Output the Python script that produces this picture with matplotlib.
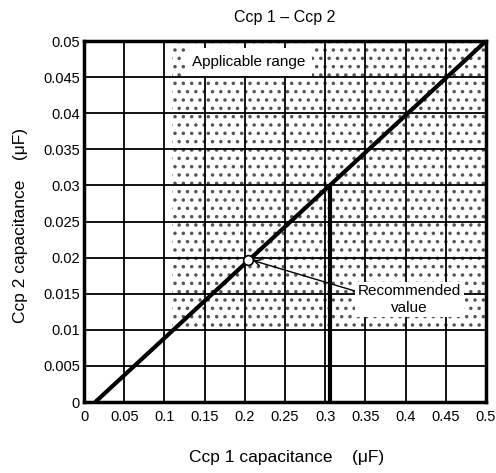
import matplotlib
matplotlib.use('Agg')
import matplotlib.pyplot as plt
import numpy as np

plt.rcParams['font.family'] = ['Liberation Sans', 'DejaVu Sans']
plt.rcParams['hatch.color'] = '#555555'
plt.rcParams['hatch.linewidth'] = 1.3

# data
xticks = [0, 0.05, 0.1, 0.15, 0.2, 0.25, 0.3, 0.35, 0.4, 0.45, 0.5]
xticklabels = ['0', '0.05', '0.1', '0.15', '0.2', '0.25', '0.3', '0.35', '0.4', '0.45', '0.5']
yticks = [0, 0.005, 0.01, 0.015, 0.02, 0.025, 0.03, 0.035, 0.04, 0.045, 0.05]
yticklabels = ['0', '0.005', '0.01', '0.015', '0.02', '0.025', '0.03', '0.035', '0.04', '0.045', '0.05']

ccp_line_x = [0.014, 0.5]
ccp_line_y = [0.0, 0.05]

range_x = [0.11, 0.5]
range_y = [0.01, 0.05]

rec_x = 0.204
rec_y = 0.0196

marker_x = [0.306, 0.306]
marker_y = [0.0, 0.0299]

fig = plt.figure(figsize=(4.96, 4.73), dpi=100)
ax = fig.add_axes([0.1694, 0.1501, 0.8105, 0.7632])

# applicable range (dotted area)
ax.fill_between(range_x, range_y[0], range_y[1], facecolor='white',
                edgecolor='#555555', hatch='..', linewidth=0, zorder=1)

ax.set_xlim(0, 0.5)
ax.set_ylim(0, 0.05)
ax.set_xticks(xticks)
ax.set_xticklabels(xticklabels)
ax.set_yticks(yticks)
ax.set_yticklabels(yticklabels)
ax.tick_params(length=0, labelsize=10.5)
ax.tick_params(axis='x', pad=6)
ax.tick_params(axis='y', pad=3)
ax.grid(True, color='black', lw=1.3)

# extra vertical line up to the curve
ax.plot(marker_x, marker_y, color='black', lw=3, zorder=3, solid_capstyle='butt')

ax.plot(ccp_line_x, ccp_line_y, color='black', lw=3, zorder=4, solid_capstyle='butt')
ax.plot([rec_x], [rec_y], marker='o', ms=7, mfc='white', mec='black', mew=1.2, zorder=6)

ax.text(0.205, 0.0471, 'Applicable range', fontsize=11, ha='center', va='center',
        bbox=dict(facecolor='white', edgecolor='none', pad=5), zorder=7)

ax.annotate('Recommended\nvalue', xy=(rec_x + 0.006, rec_y), xytext=(0.405, 0.0142),
            fontsize=11, ha='center', va='center', multialignment='center',
            bbox=dict(facecolor='white', edgecolor='none', pad=2),
            arrowprops=dict(arrowstyle='->', color='black', lw=1,
                            shrinkA=0, shrinkB=0, relpos=(0.0, 0.75)),
            zorder=7)

for s in ax.spines.values():
    s.set_linewidth(2.5)
    s.set_zorder(8)

ax.set_title('Ccp 1 \u2013 Ccp 2', fontsize=11.5, pad=14)
ax.set_xlabel('Ccp 1 capacitance    (\u03bcF)', fontsize=12.5)
ax.xaxis.set_label_coords(0.505, -0.155)
ax.xaxis.label.set_va('center')
ax.set_ylabel('Ccp 2 capacitance    (\u03bcF)', fontsize=12.5)
ax.yaxis.set_label_coords(-0.157, 0.49)
ax.yaxis.label.set_va('center')

fig.savefig('out.png', dpi=100)
